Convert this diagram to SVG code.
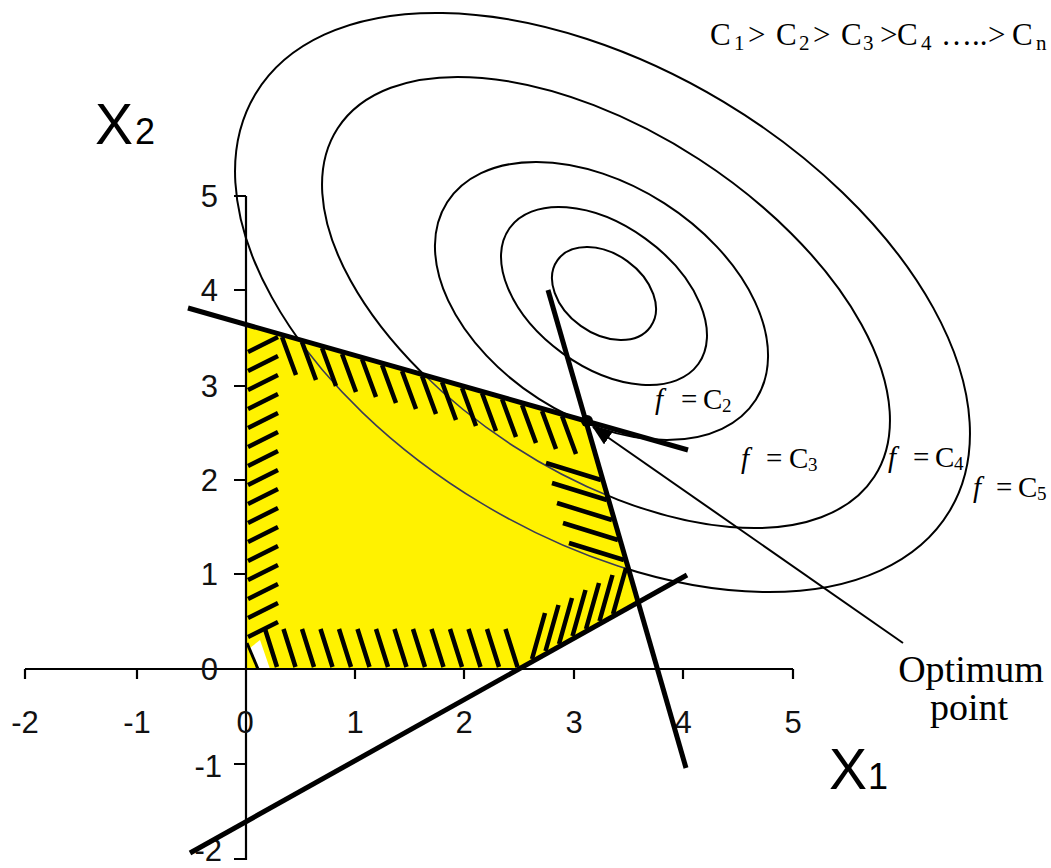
<svg xmlns="http://www.w3.org/2000/svg" width="1051" height="868" viewBox="0 0 1051 868">
<style>
.ell{fill:none;stroke:#000;stroke-width:2}
.ellin{fill:none;stroke:#3c3c55;stroke-width:1.6}
.hatch{fill:none;stroke:#000;stroke-width:4.5}
.con{fill:none;stroke:#000;stroke-width:5;stroke-linecap:butt}
.axis{fill:none;stroke:#000;stroke-width:2.2}
.num{font-family:"Liberation Sans",Arial,sans-serif;font-size:31px;fill:#111}
.big{font-family:"Liberation Sans",Arial,sans-serif;fill:#000}
.tm{font-family:"Liberation Serif","Times New Roman",serif;fill:#000}
</style>
<defs>
<clipPath id="feas"><polygon points="246,324.5 585.8,421 638.2,602.3 519,669 246,669"/></clipPath>
<marker id="ah" markerUnits="userSpaceOnUse" markerWidth="20" markerHeight="16" refX="19" refY="8" orient="auto"><path d="M0,0 L20,8 L0,16 z" fill="#000"/></marker>
</defs>
<rect width="1051" height="868" fill="#fff"/>
<g id="contours">
<ellipse class="ell" cx="604" cy="293.5" rx="57.2" ry="39.9" transform="rotate(35.7 604 293.5)"/>
<ellipse class="ell" cx="604" cy="296" rx="116.3" ry="70.7" transform="rotate(35.8 604 296)"/>
<ellipse class="ell" cx="601.5" cy="301" rx="183.2" ry="116.2" transform="rotate(32.6 601.5 301)"/>
<ellipse class="ell" cx="606" cy="302.5" rx="319.9" ry="170.8" transform="rotate(33 606 302.5)"/>
<ellipse class="ell" cx="602.5" cy="302.5" rx="404.9" ry="234.4" transform="rotate(31 602.5 302.5)"/>
</g>
<g id="feasible-region">
<polygon points="246,324.5 585.8,421 638.2,602.3 519,669 246,669" fill="#fff200"/>
<g clip-path="url(#feas)">
<ellipse class="ellin" cx="601.5" cy="301" rx="183.2" ry="116.2" transform="rotate(32.6 601.5 301)"/>
<ellipse class="ellin" cx="606" cy="302.5" rx="319.9" ry="170.8" transform="rotate(33 606 302.5)"/>
<ellipse class="ellin" cx="602.5" cy="302.5" rx="404.9" ry="234.4" transform="rotate(31 602.5 302.5)"/>
</g>
<path class="hatch" d="M282 337 l14 38 M302 342 l14 38 M322 348 l14 38 M342 354 l14 38 M362 359 l14 38 M382 365 l14 38 M402 371 l14 38 M422 376 l14 38 M442 382 l14 38 M462 388 l14 38 M482 393 l14 38 M502 399 l14 38 M522 405 l14 38 M542 411 l14 38 M562 416 l14 38"/>
<path class="hatch" d="M248 352 l30 -15 M248 371 l30 -15 M248 390 l30 -15 M248 409 l30 -15 M248 428 l30 -15 M248 447 l30 -15 M248 466 l30 -15 M248 485 l30 -15 M248 504 l30 -15 M248 523 l30 -15 M248 542 l30 -15 M248 561 l30 -15 M248 580 l30 -15 M248 599 l30 -15 M248 618 l30 -15 M248 637 l30 -15"/>
<path class="hatch" d="M265 629 l12 38 M283.5 629 l12 38 M302 629 l12 38 M320.5 629 l12 38 M339 629 l12 38 M357.5 629 l12 38 M376 629 l12 38 M394.5 629 l12 38 M413 629 l12 38 M431.5 629 l12 38 M450 629 l12 38 M468.5 629 l12 38 M487 629 l12 38 M505.5 629 l12 38"/>
<path class="hatch" d="M532 659 l13 -46 M545.5 651 l13 -46 M559 644 l13 -46 M572.5 636 l13 -46 M586 629 l13 -46 M599.5 621 l13 -46 M613 614 l13 -46"/>
<path class="hatch" d="M546 463 L601 480 M552 483 L607 500 M557 503 L612 520 M563 523 L618 540 M569 543 L624 560"/>
<polygon points="250,648 259,669 270,669 260,640" fill="#fff"/>
<path d="M247 643 L258 669" stroke="#000" stroke-width="3" fill="none"/>
</g>
<g id="axes">
<path class="axis" d="M25 669 H793 M25 669 v10 M137 669 v10 M355 669 v10 M464 669 v10 M574 669 v10 M683 669 v10 M793 669 v10"/>
<path class="axis" d="M246 196 V860" stroke-width="3"/>
<path class="axis" d="M234 196 H246 M234 290 H246 M234 386 H246 M234 480 H246 M234 574 H246 M234 764 H246 M234 859 H246"/>
<g class="num" text-anchor="end">
<text x="218" y="207">5</text><text x="218" y="301">4</text><text x="218" y="397">3</text><text x="218" y="491">2</text><text x="218" y="585">1</text><text x="218" y="680">0</text><text x="222" y="777">-1</text><text x="222" y="861">-2</text>
</g>
<g class="num" text-anchor="middle">
<text x="25" y="733">-2</text><text x="137" y="733">-1</text><text x="245" y="733">0</text><text x="355" y="733">1</text><text x="464" y="733">2</text><text x="574" y="733">3</text><text x="683" y="733">4</text><text x="793" y="733">5</text>
</g>
<g id="label-x2" class="big"><text x="95" y="144" font-size="57">X</text><text x="135" y="144" font-size="36">2</text></g>
<g id="label-x1" class="big"><text x="829" y="789" font-size="57">X</text><text x="868" y="789" font-size="36">1</text></g>
</g>
<g id="constraints">
<line class="con" x1="188" y1="308" x2="688" y2="450"/>
<line class="con" x1="548" y1="290" x2="686" y2="768"/>
<line class="con" x1="190" y1="853" x2="687" y2="575"/>
</g>
<g id="optimum">
<circle cx="587" cy="421" r="6" fill="#000"/>
</g>
<g id="connectors">
<line x1="903" y1="643" x2="593" y2="427" stroke="#000" stroke-width="2" marker-end="url(#ah)"/>
</g>
<g id="label-optimum" class="tm" font-size="38" text-anchor="middle">
<text x="971" y="682">Optimum</text><text x="969" y="720">point</text>
</g>
<g id="label-order" class="tm" font-size="31">
<text y="45"><tspan x="710">C</tspan><tspan x="734" y="50" font-size="21">1</tspan><tspan x="748" y="45">&gt;</tspan><tspan x="776">C</tspan><tspan x="799" y="50" font-size="21">2</tspan><tspan x="813" y="45">&gt;</tspan><tspan x="841">C</tspan><tspan x="863" y="50" font-size="21">3</tspan><tspan x="880" y="45">&gt;</tspan><tspan x="897">C</tspan><tspan x="921" y="50" font-size="21">4</tspan><tspan x="941" y="45">…..</tspan><tspan x="988">&gt;</tspan><tspan x="1012">C</tspan><tspan x="1036" y="50" font-size="21">n</tspan></text>
</g>
<g id="label-c2" class="tm" font-size="29"><text y="409"><tspan x="655" font-style="italic">f</tspan><tspan x="681">=</tspan><tspan x="703">C</tspan><tspan x="722" y="412" font-size="19">2</tspan></text></g>
<g id="label-c3" class="tm" font-size="29"><text y="468"><tspan x="741" font-style="italic">f</tspan><tspan x="766">=</tspan><tspan x="789">C</tspan><tspan x="808" y="471" font-size="19">3</tspan></text></g>
<g id="label-c4" class="tm" font-size="29"><text y="467"><tspan x="888" font-style="italic">f</tspan><tspan x="913">=</tspan><tspan x="935">C</tspan><tspan x="954" y="470" font-size="19">4</tspan></text></g>
<g id="label-c5" class="tm" font-size="29"><text y="497"><tspan x="973" font-style="italic">f</tspan><tspan x="996">=</tspan><tspan x="1018">C</tspan><tspan x="1037" y="500" font-size="19">5</tspan></text></g>
</svg>
